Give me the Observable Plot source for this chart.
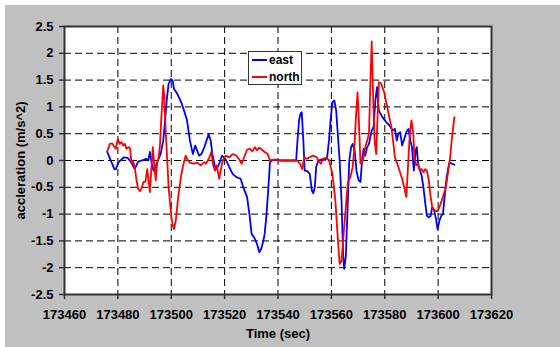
<!DOCTYPE html>
<html>
<head>
<meta charset="utf-8">
<script src="https://cdn.jsdelivr.net/npm/d3@7"></script>
<script src="https://cdn.jsdelivr.net/npm/@observablehq/plot@0.6"></script>
<style>
  html, body { margin: 0; padding: 0; background: #fff; }
  #wrap { position: relative; width: 560px; height: 347px; overflow: hidden; }
  #panel { position: absolute; left: 5px; top: 5px; right: 0; bottom: 0; background: #c0c0c0; }
  #chart { position: absolute; left: 0; top: 0; }
  #legend {
    position: absolute; left: 248px; top: 51px; width: 52px; height: 32px;
    background: #fff; border: 1.5px solid #333;
    font: bold 12px "Liberation Sans", Arial, sans-serif; color: #000;
  }
  #legend .row { position: absolute; left: 3px; height: 14px; display: flex; align-items: center; }
  #legend .sw { width: 15px; height: 2px; margin-right: 2px; }
</style>
</head>
<body>
<div id="wrap">
  <div id="panel"></div>
  <div id="chart"></div>
  <div id="legend"></div>
</div>
<script>
// Axis ticks
const timeTicks = [173460, 173480, 173500, 173520, 173540, 173560, 173580, 173600, 173620];
const accelTicks = [-2.5, -2, -1.5, -1, -0.5, 0, 0.5, 1, 1.5, 2, 2.5];

// Series names and colours
const seriesNames = ["east", "north"];
const seriesColors = ["#0000ff", "#ff0000"];

// East acceleration (m/s^2) against time (sec)
const eastTime = [
  173476.0, 173478.7, 173479.2, 173480.3, 173482.3, 173483.6, 173485.0, 173486.3, 173487.6, 173489.6,
  173490.7, 173491.4, 173492.0, 173492.7, 173493.4, 173494.0, 173495.0, 173496.0, 173497.0, 173497.7,
  173498.3, 173499.0, 173499.9, 173500.5, 173501.0, 173502.3, 173503.7, 173505.0, 173505.9, 173507.0,
  173508.1, 173509.0, 173509.7, 173510.4, 173511.3, 173512.4, 173514.0, 173514.8, 173515.4, 173516.4,
  173517.0, 173518.0, 173519.0, 173519.7, 173520.6, 173521.7, 173523.0, 173524.4, 173526.0, 173527.0,
  173528.4, 173529.3, 173530.1, 173531.0, 173532.1, 173533.0, 173533.7, 173534.4, 173535.0, 173535.7,
  173536.4, 173537.0, 173538.0, 173541.7, 173546.8, 173547.3, 173547.9, 173548.4, 173548.9, 173549.5,
  173550.0, 173551.0, 173551.9, 173552.7, 173553.2, 173553.8, 173554.3, 173555.1, 173556.4, 173557.8,
  173558.4, 173559.1, 173559.8, 173560.4, 173561.1, 173561.8, 173562.4, 173563.1, 173563.8, 173564.4,
  173564.8, 173565.4, 173566.0, 173566.7, 173567.4, 173568.0, 173568.7, 173569.4, 173570.2, 173570.9,
  173571.5, 173572.1, 173572.7, 173573.4, 173574.1, 173575.1, 173575.8, 173576.5, 173577.1, 173577.8,
  173579.1, 173580.5, 173581.8, 173583.1, 173583.8, 173584.5, 173585.1, 173585.8, 173586.5, 173587.1,
  173588.1, 173588.9, 173589.6, 173590.2, 173590.9, 173591.6, 173592.0, 173592.5, 173593.2, 173593.8,
  173594.5, 173595.2, 173595.8, 173596.5, 173597.2, 173597.8, 173598.5, 173599.2, 173599.8, 173600.5,
  173601.2, 173601.8, 173602.5, 173603.2, 173604.1, 173604.8, 173606.1
];
const eastAccel = [
  0.16, -0.16, -0.16, -0.03, 0.06, 0.05, -0.03, -0.16, -0.02, 0.01,
  0.03, 0, 0.16, -0.06, -0.19, -0.12, 0, 0.12, 0.37, 0.75,
  1.12, 1.43, 1.52, 1.49, 1.34, 1.24, 1.09, 0.90, 0.75, 0.37,
  0.12, 0.28, 0.19, 0.09, 0.12, 0.25, 0.49, 0.37, 0.12, -0.12,
  -0.16, -0.06, 0.09, 0.06, 0, -0.12, -0.25, -0.31, -0.34, -0.50,
  -0.68, -1.00, -1.37, -1.43, -1.55, -1.71, -1.65, -1.52, -1.37, -1.00,
  -0.50, -0.03, 0.01, 0, 0, 0.37, 0.75, 0.87, 0.90, 0.37,
  -0.19, -0.20, -0.25, -0.56, -0.61, -0.50, -0.12, 0, 0.02, 0.01,
  0.06, 0.37, 0.81, 1.09, 1.12, 0.93, 0.50, 0, -0.75, -1.74,
  -2.02, -1.80, -1.00, 0, 0.25, 0.31, 0.19, -0.19, -0.37, -0.40,
  0, 0.22, 0.09, 0.25, 0.31, 0.56, 0.62, 1.12, 1.37, 0.93,
  0.81, 0.72, 0.65, 0.56, 0.59, 0.37, 0.50, 0.53, 0.28, 0.37,
  0.53, 0.59, 0.37, 0.25, -0.19, 0.19, 0.25, -0.06, -0.19, -0.28,
  -0.50, -0.81, -1.03, -1.06, -1.03, -0.87, -0.93, -1.09, -1.28, -1.12,
  -1.03, -1.00, -0.65, -0.31, -0.06, -0.05, -0.08
];

// North acceleration (m/s^2) against time (sec)
const northTime = [
  173476.0, 173477.0, 173477.9, 173478.7, 173479.2, 173480.0, 173480.7, 173481.4, 173482.0, 173482.6,
  173483.2, 173484.0, 173484.6, 173485.1, 173485.6, 173486.3, 173487.0, 173487.6, 173488.3, 173489.0,
  173489.6, 173490.3, 173491.0, 173491.5, 173492.0, 173492.6, 173493.1, 173493.7, 173494.2, 173494.7,
  173495.3, 173495.8, 173496.3, 173497.0, 173497.4, 173497.9, 173498.5, 173499.0, 173499.7, 173500.3,
  173501.0, 173501.7, 173502.6, 173503.7, 173504.6, 173505.4, 173506.1, 173507.0, 173508.3, 173509.7,
  173511.0, 173512.4, 173513.0, 173513.7, 173514.3, 173515.0, 173515.7, 173516.4, 173517.0, 173518.0,
  173518.6, 173519.3, 173520.4, 173521.7, 173523.0, 173524.4, 173525.7, 173526.4, 173527.3, 173528.4,
  173529.4, 173530.4, 173531.3, 173532.1, 173533.0, 173534.0, 173535.0, 173536.1, 173537.0, 173538.0,
  173539.1, 173540.4, 173547.1, 173548.2, 173549.1, 173549.8, 173550.8, 173551.8, 173553.1, 173554.5,
  173555.1, 173556.0, 173556.8, 173558.0, 173559.1, 173560.4, 173561.5, 173562.3, 173563.1, 173563.8,
  173564.4, 173565.4, 173566.2, 173567.1, 173568.0, 173568.7, 173569.2, 173569.8, 173570.3, 173570.9,
  173571.8, 173572.7, 173573.4, 173574.1, 173574.6, 173575.1, 173575.7, 173576.2, 173576.8, 173577.3,
  173577.8, 173578.6, 173579.8, 173581.2, 173582.5, 173583.1, 173583.8, 173585.1, 173586.5, 173587.4,
  173588.1, 173588.7, 173589.4, 173590.0, 173590.7, 173591.1, 173591.8, 173592.5, 173593.2, 173593.8,
  173594.5, 173595.2, 173595.8, 173596.5, 173597.2, 173597.8, 173598.5, 173599.8, 173600.7, 173601.8,
  173602.9, 173603.8, 173604.5, 173605.2, 173606.1
];
const northAccel = [
  0.17, 0.31, 0.32, 0.25, 0.22, 0.40, 0.31, 0.34, 0.28, 0.31,
  0.22, 0.25, 0.22, -0.06, 0, -0.12, -0.37, -0.53, -0.57, -0.50,
  -0.40, -0.40, -0.16, -0.37, -0.59, -0.12, 0.25, -0.12, -0.37, -0.06,
  0.06, 0.31, 0.81, 1.40, 1.18, 0.56, 0, -0.50, -0.87, -1.15,
  -1.28, -1.12, -0.68, -0.28, -0.06, 0.09, 0.01, -0.04, -0.06, -0.04,
  -0.09, -0.03, -0.06, 0, 0.06, 0.16, -0.09, -0.19, -0.09, -0.34,
  -0.16, 0, 0.09, 0.06, 0.12, 0.09, 0, -0.06, 0.06, 0.20,
  0.22, 0.17, 0.25, 0.19, 0.24, 0.20, 0.16, 0.12, 0, 0.01,
  0.02, 0, 0, -0.06, -0.16, 0.06, 0.03, 0.06, 0.09, 0.06,
  0, -0.06, 0.03, 0.05, 0.01, -0.25, -0.75, -1.37, -1.93, -1.87,
  -1.49, -0.87, -0.40, -0.31, -0.12, 0.31, 0.81, 1.27, 0.75, -0.06,
  0, 0.25, 0.37, 0.50, 1.43, 2.22, 1.12, 0.37, 0.12, 0.81,
  1.46, 1.44, 1.27, 0.93, 0.62, 0.37, 0.06, -0.12, -0.34, -0.53,
  -0.68, -0.12, 0.50, 0.75, 0.50, 0.06, -0.09, -0.06, -0.19, -0.16,
  -0.22, -0.16, -0.19, -0.37, -0.68, -0.87, -0.93, -0.95, -0.84, -0.68,
  -0.50, -0.19, 0.06, 0.44, 0.81
];

const font = '"Liberation Sans", Arial, sans-serif';
const gridStyle = { stroke: "#000", strokeOpacity: 1, strokeWidth: 1, strokeDasharray: "7,4" };

const chart = Plot.plot({
  width: 560,
  height: 347,
  marginLeft: 64,
  marginRight: 69,
  marginTop: 26,
  marginBottom: 53,
  style: { background: "transparent", fontFamily: font, fontSize: "13px", fontWeight: "bold", color: "#000", overflow: "visible" },
  x: { domain: [timeTicks[0], timeTicks[timeTicks.length - 1]] },
  y: { domain: [accelTicks[0], accelTicks[accelTicks.length - 1]] },
  marks: [
    Plot.frame({ fill: "#fff" }),
    Plot.gridX(timeTicks.slice(1, -1), gridStyle),
    Plot.gridY(accelTicks.slice(1, -1), gridStyle),
    Plot.lineY(eastAccel, { x: eastTime, stroke: seriesColors[0], strokeWidth: 1.8 }),
    Plot.lineY(northAccel, { x: northTime, stroke: seriesColors[1], strokeWidth: 1.8 }),
    Plot.frame({ stroke: "#333", strokeWidth: 2 }),
    Plot.axisX(timeTicks, { tickSize: 5, tickPadding: 10, tickFormat: d => String(d), label: null, stroke: "#333", strokeWidth: 1.5 }),
    Plot.axisY(accelTicks, { tickSize: 5, tickPadding: 6, tickFormat: d => String(d), label: null, stroke: "#333", strokeWidth: 1.5 }),
    Plot.text(["Time (sec)"], { frameAnchor: "bottom", dy: 39, lineAnchor: "middle", text: d => d, fontSize: 13, fontWeight: "bold", fill: "#000" }),
    Plot.text(["accleration (m/s^2)"], { frameAnchor: "left", dx: -44, rotate: -90, text: d => d, textAnchor: "middle", fontSize: 13, fontWeight: "bold", fill: "#000" })
  ]
});
document.getElementById("chart").append(chart);

// Legend box
const legend = document.getElementById("legend");
seriesNames.forEach((name, i) => {
  const row = document.createElement("div");
  row.className = "row";
  row.style.top = (1 + i * 17) + "px";
  const sw = document.createElement("span");
  sw.className = "sw";
  sw.style.background = seriesColors[i];
  const label = document.createElement("span");
  label.textContent = name;
  row.append(sw, label);
  legend.append(row);
});
</script>
</body>
</html>
